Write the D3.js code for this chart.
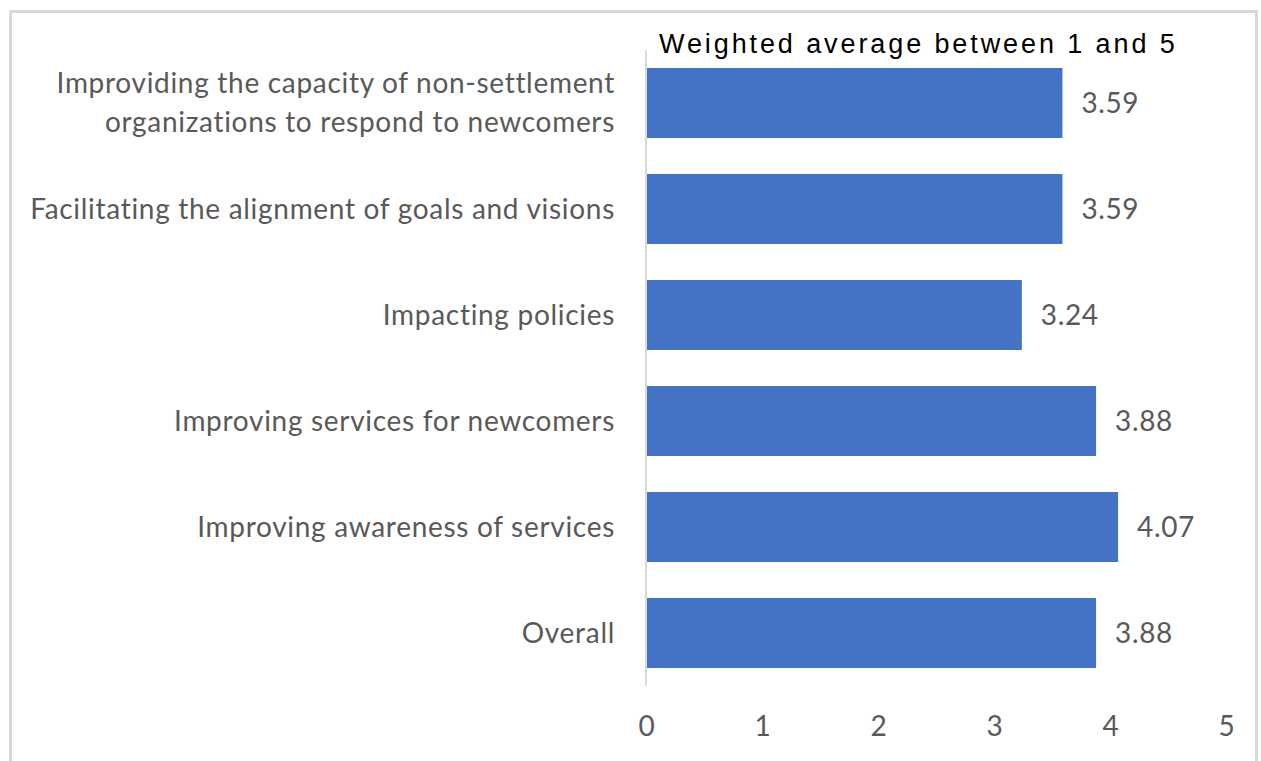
<!DOCTYPE html>
<html>
<head>
<meta charset="utf-8">
<script src="https://cdn.jsdelivr.net/npm/d3@7"></script>
<style>
  body { margin: 0; background: #fff; }
  svg text { font-family: Lato, "Open Sans", sans-serif; }
</style>
</head>
<body>
<div id="chart"></div>
<script>
// Horizontal bar chart: weighted averages (1 to 5)

const categories = [
    ["Improviding the capacity of non-settlement", "organizations to respond to newcomers"],
    ["Facilitating the alignment of goals and visions"],
    ["Impacting policies"],
    ["Improving services for newcomers"],
    ["Improving awareness of services"],
    ["Overall"]
];
const values = [3.59, 3.59, 3.24, 3.88, 4.07, 3.88];
const xTicks = [0, 1, 2, 3, 4, 5];
const title = "Weighted average between 1 and 5";

const W = 1261, H = 761;
const plotLeft = 646, plotRight = 1226;
const plotTop = 50, plotBottom = 686;
const labelSize = 28;

const svg = d3.select("#chart")
    .append("svg")
    .attr("width", W)
    .attr("height", H);

// chart border
svg.append("rect")
    .attr("x", 10.5)
    .attr("y", 11.5)
    .attr("width", 1246)
    .attr("height", 780)
    .attr("fill", "none")
    .attr("stroke", "#d9d9d9")
    .attr("stroke-width", 3);

const xScale = d3.scaleLinear().domain([0, 5]).range([plotLeft, plotRight]);
const yScale = d3.scaleBand()
    .domain(d3.range(categories.length))
    .range([plotTop, plotBottom])
    .paddingInner(0.34)
    .paddingOuter(0.17);

// bars
svg.append("g")
    .selectAll("rect")
    .data(values)
    .enter()
    .append("rect")
    .attr("x", xScale(0))
    .attr("y", (d, i) => yScale(i))
    .attr("width", d => xScale(d) - xScale(0))
    .attr("height", yScale.bandwidth())
    .attr("fill", "#4472c4");

// vertical axis line
svg.append("line")
    .attr("x1", xScale(0))
    .attr("x2", xScale(0))
    .attr("y1", plotTop)
    .attr("y2", plotBottom)
    .attr("stroke", "#d9d9d9")
    .attr("stroke-width", 2);

// value labels
svg.append("g")
    .selectAll("text")
    .data(values)
    .enter()
    .append("text")
    .attr("x", d => xScale(d) + 19)
    .attr("y", (d, i) => yScale(i) + yScale.bandwidth() / 2)
    .attr("dy", "0.35em")
    .attr("font-size", labelSize)
    .attr("fill", "#595959")
    .style("letter-spacing", "0.6px")
    .text(d => d.toFixed(2));

// category labels (multi-line where needed)
const lineGap = 1.38;
const labels = svg.append("g")
    .selectAll("text")
    .data(categories)
    .enter()
    .append("text")
    .attr("text-anchor", "end")
    .attr("font-size", labelSize)
    .attr("fill", "#595959")
    .style("letter-spacing", "0.7px")
    .attr("y", (d, i) => yScale(i) + yScale.bandwidth() / 2);

labels.each(function (lines) {
    const t = d3.select(this);
    const n = lines.length;
    lines.forEach((line, k) => {
        t.append("tspan")
            .attr("x", 615)
            .attr("dy", k === 0 ? `${0.35 - (n - 1) * lineGap / 2}em` : `${lineGap}em`)
            .text(line);
    });
});

// x axis
const xAxis = svg.append("g")
    .attr("transform", `translate(0,${plotBottom})`)
    .call(d3.axisBottom(xScale)
        .tickValues(xTicks)
        .tickFormat(d3.format("d"))
        .tickSize(0)
        .tickPadding(30));
xAxis.select(".domain").remove();
xAxis.selectAll("text")
    .attr("font-size", labelSize)
    .attr("fill", "#595959")
    .style("font-family", "Lato, sans-serif");

// title
svg.append("text")
    .attr("x", 659)
    .attr("y", 53)
    .attr("font-size", 27)
    .attr("fill", "#000")
    .style("font-family", "'Liberation Sans', Arial, sans-serif")
    .style("letter-spacing", "2.9px")
    .text(title);
</script>
</body>
</html>
